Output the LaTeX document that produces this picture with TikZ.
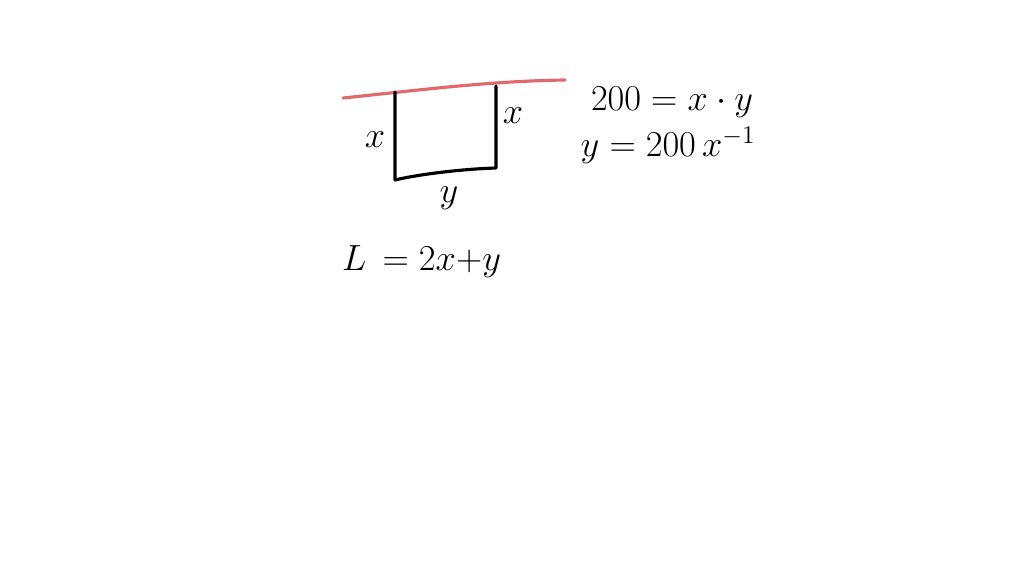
\documentclass[tikz,border=0pt]{standalone}
\usepackage{amsmath}
\usepackage{xcolor}
\definecolor{fence}{RGB}{224,104,110}
\tikzset{
  hand/.style={font=\fontsize{22}{26}\selectfont},
  pen/.style={line width=1.8pt, line cap=round, line join=round}
}
\begin{document}
\begin{tikzpicture}[x=0.02cm, y=-0.02cm]
\useasboundingbox (0,0) rectangle (1024,576);
\coordinate (R1) at (343,98);
\coordinate (R2) at (565,80);
\coordinate (A) at (395,92);
\coordinate (B) at (395,180);
\coordinate (C) at (496,168);
\coordinate (D) at (496,86);
\draw [pen, color=fence] (R1) .. controls (420,90) and (490,81) .. (R2);
\draw [pen] (A) -- (B) .. controls (415,175) and (460,169) .. (C) -- (D);
\node [hand] (xl) at (375,140) {$x$};
\node [hand] (xr) at (513,116) {$x$};
\node [hand] (yb) at (449,198) {$y$};
\node [hand, anchor=west] (len) at (336,262) {$L \,= 2x{+}y$};
\node [hand] (area) at (672,102) {$200 = x \cdot y$};
\node [hand] (solve) at (668,145) {$y = 200\,x^{-1}$};
\end{tikzpicture}
\end{document}
